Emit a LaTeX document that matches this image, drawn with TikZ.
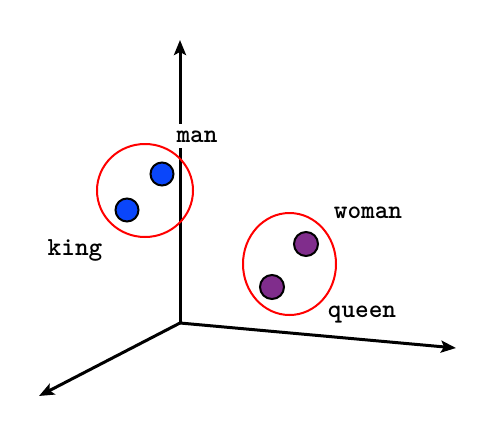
\documentclass[tikz,border=0pt]{standalone}
\usetikzlibrary{arrows.meta,shapes.geometric}
\definecolor{dotblue}{RGB}{10,70,250}
\definecolor{dotpurple}{RGB}{128,45,140}
\tikzset{
  axis/.style={line width=3pt,-{Stealth[length=15pt,width=12pt,inset=3pt]}},
  ring/.style={draw=red,line width=2pt,ellipse,inner sep=0pt},
  bluedot/.style={circle,draw=black,line width=2pt,fill=dotblue,minimum size=23pt,inner sep=0pt},
  purpledot/.style={circle,draw=black,line width=2pt,fill=dotpurple,minimum size=24pt,inner sep=0pt},
  word/.style={font=\ttfamily\bfseries\fontsize{26}{28}\selectfont,anchor=base,fill=white,inner xsep=1pt,inner ysep=6pt}
}
\begin{document}
\begin{tikzpicture}[x=1pt,y=-1pt]
\useasboundingbox (0,0) rectangle (487,447);
\coordinate (O) at (180,323);
\coordinate (up) at (180,40);
\coordinate (right) at (456,348);
\coordinate (left) at (39,396);
\draw[axis] (O) -- (up);
\draw[axis] (O) -- (right);
\draw[axis] (O) -- (left);
\node[ring,minimum width=96pt,minimum height=93pt] (c1) at (145,190.5) {};
\node[ring,minimum width=93pt,minimum height=102pt] (c2) at (289.5,264) {};
\node[bluedot] (man) at (162,174) {};
\node[bluedot] (king) at (127,210) {};
\node[purpledot] (woman) at (306,244) {};
\node[purpledot] (queen) at (272,287) {};
\node[word] (lman) at (197,142) {man};
\node[word] (lking) at (75,255) {king};
\node[word] (lwoman) at (368,218) {woman};
\node[word] (lqueen) at (362,317) {queen};
\end{tikzpicture}
\end{document}
